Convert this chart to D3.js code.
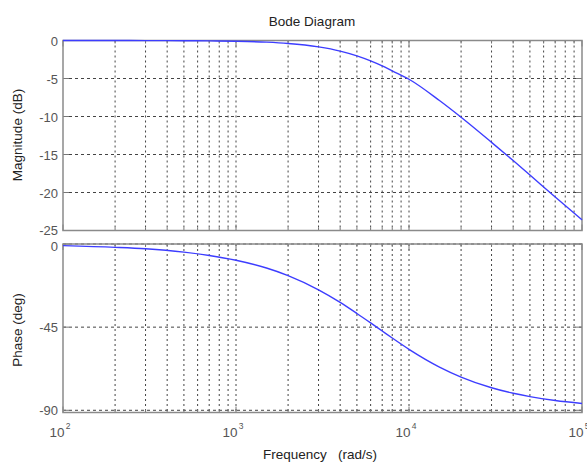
<!DOCTYPE html>
<html>
<head>
<meta charset="utf-8">
<script src="https://cdn.jsdelivr.net/npm/d3@7.9.0/dist/d3.min.js"></script>
<style>
  body { margin: 0; background: #fff; }
  svg { font-family: "Liberation Sans", Arial, sans-serif; }
</style>
</head>
<body>
<svg id="chart" width="587" height="462"></svg>
<script>
// frequencies (rad/s)
const freq = [100, 200, 300, 500, 700, 1000, 1500, 2000, 3000, 4000, 5000, 6000,
  7000, 8000, 10000, 15000, 20000, 30000, 40000, 50000, 70000, 100000];
// magnitude (dB)
const magnitude = [0, 0, -0.01, -0.03, -0.05, -0.1, -0.22, -0.39, -0.84, -1.39, -2.02, -2.68,
  -3.34, -4.0, -5.1, -7.9, -10.1, -13.4, -15.8, -17.7, -20.6, -23.6];
// phase (deg)
const phase = [-0.9, -1.8, -2.6, -4.4, -6.2, -8.8, -13, -17.1, -24.8, -31.6, -37.6, -42.7,
  -47.1, -50.9, -57, -66.6, -72, -77.8, -80.8, -82.6, -84.7, -86.3];

const magTicks = [0, -5, -10, -15, -20, -25];
const phaseTicks = [0, -45, -90];
const decades = [100, 1000, 10000, 100000];

const svg = d3.select('#chart');
const left = 63, right = 582;

const x = d3.scaleLog().domain([100, 100000]).range([left, right]);
const yMag = d3.scaleLinear().domain([-25, 0]).range([230.5, 40.5]);
const yPh = d3.scaleLinear().domain([-91.2, 0]).range([412.5, 244]);

// minor positions 2..9 for each decade
const minors = [];
decades.slice(0, 3).forEach(d => { for (let k = 2; k <= 9; k++) minors.push(d * k); });

function panel(y, ticks, values, labelShift) {
  const [bottom, top] = y.range();
  const g = svg.append('g');

  // dotted grid
  g.selectAll('.vg').data(minors.concat(decades.slice(1, 3)))
    .join('line')
    .attr('x1', d => x(d)).attr('x2', d => x(d))
    .attr('y1', top).attr('y2', bottom)
    .attr('stroke', '#444').attr('stroke-width', 1)
    .attr('stroke-dasharray', '2,3');
  g.selectAll('.hg').data(ticks)
    .join('line')
    .attr('x1', left).attr('x2', right)
    .attr('y1', d => y(d)).attr('y2', d => y(d))
    .attr('stroke', '#444').attr('stroke-width', 1)
    .attr('stroke-dasharray', '3,3');

  // inward ticks on x (top and bottom)
  const xt = minors.map(d => ({ v: d, len: 3 })).concat(decades.map(d => ({ v: d, len: 6 })));
  [[bottom, -1], [top, 1]].forEach(([yy, dir]) => {
    g.append('g').selectAll('line').data(xt).join('line')
      .attr('x1', d => x(d.v)).attr('x2', d => x(d.v))
      .attr('y1', yy).attr('y2', d => yy + dir * d.len)
      .attr('stroke', '#777');
  });
  // inward ticks on y (left and right)
  [[left, 1], [right, -1]].forEach(([xx, dir]) => {
    g.append('g').selectAll('line').data(ticks).join('line')
      .attr('x1', xx).attr('x2', xx + dir * 6)
      .attr('y1', d => y(d)).attr('y2', d => y(d))
      .attr('stroke', '#777');
  });

  // box
  g.append('rect')
    .attr('x', left).attr('y', top)
    .attr('width', right - left).attr('height', bottom - top)
    .attr('fill', 'none').attr('stroke', '#8a8a8a').attr('stroke-width', 1.5);

  // y tick labels
  g.selectAll('.yl').data(ticks).join('text')
    .attr('x', left - 5).attr('y', d => y(d) + 5 + labelShift(d))
    .attr('text-anchor', 'end')
    .attr('font-size', 13).attr('fill', '#555')
    .text(d => d);

  // curve
  const line = d3.line()
    .x((d, i) => x(freq[i]))
    .y(d => y(d))
    .curve(d3.curveMonotoneX);
  g.append('path')
    .datum(values)
    .attr('d', line)
    .attr('fill', 'none')
    .attr('stroke', '#3d3dff')
    .attr('stroke-width', 1.4);
}

panel(yMag, magTicks, magnitude, d => (d === -25 ? -1 : 0));
panel(yPh, phaseTicks, phase, d => (d === 0 ? 2 : 0));

// x tick labels 10^n
const xl = svg.append('g').selectAll('text').data(decades).join('text')
  .attr('x', d => x(d) - 3).attr('y', 437)
  .attr('text-anchor', 'middle')
  .attr('font-size', 13.5).attr('fill', '#555');
xl.append('tspan').text('10');
xl.append('tspan').attr('dx', 1).attr('dy', -8).attr('font-size', 8.5)
  .text(d => Math.round(Math.log10(d)));

// titles
svg.append('text').attr('x', 312).attr('y', 26).attr('text-anchor', 'middle')
  .attr('font-size', 13.5).attr('fill', '#222').text('Bode Diagram');
svg.append('text').attr('x', 320).attr('y', 459).attr('text-anchor', 'middle')
  .attr('font-size', 13.5).attr('fill', '#222').attr('xml:space', 'preserve')
  .text('Frequency   (rad/s)');
svg.append('text').attr('transform', 'translate(22,135) rotate(-90)')
  .attr('text-anchor', 'middle').attr('font-size', 13.5).attr('fill', '#222')
  .text('Magnitude (dB)');
svg.append('text').attr('transform', 'translate(22,330) rotate(-90)')
  .attr('text-anchor', 'middle').attr('font-size', 13.5).attr('fill', '#222')
  .text('Phase (deg)');
</script>
</body>
</html>
